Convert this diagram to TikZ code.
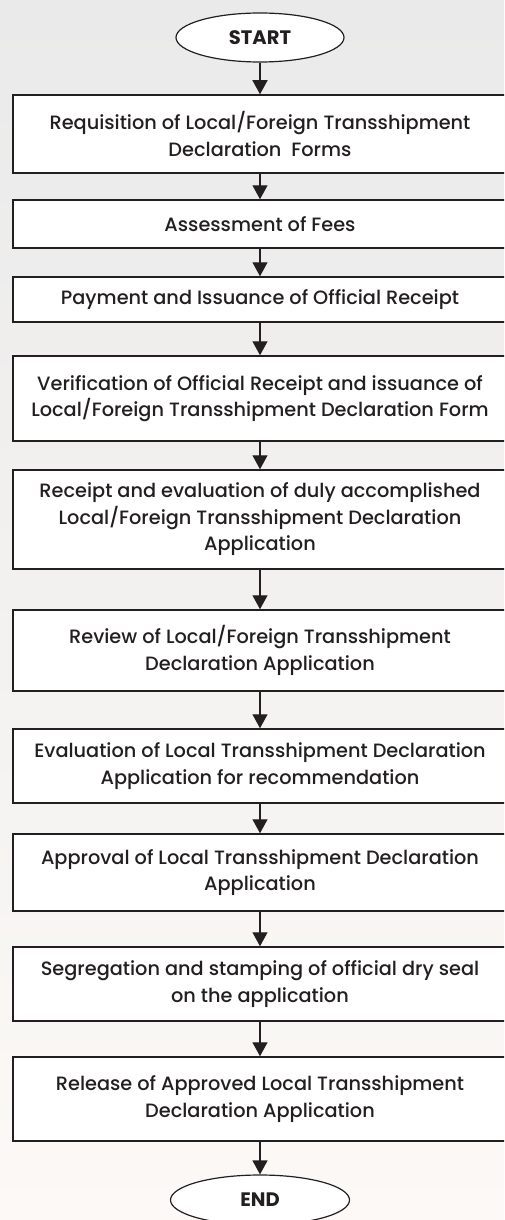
\documentclass[tikz,border=0pt]{standalone}
\usepackage{fontspec}
\setmainfont{Poppins}[UprightFont={* Medium},BoldFont={* Bold}]
\usetikzlibrary{arrows.meta,shapes.geometric}
\definecolor{inkgray}{HTML}{231F20}
\definecolor{bgtop}{HTML}{EAEAEA}
\definecolor{bgbottom}{HTML}{FCF9F6}

\tikzset{
  stepbox/.style={draw=inkgray,line width=1.5pt,fill=white,minimum width=494pt,
    align=center,inner sep=0pt,text=inkgray,font=\fontsize{19.3}{26.5}\selectfont},
  terminal/.style={ellipse,draw=inkgray,line width=1.2pt,fill=white,inner sep=0pt,
    text=inkgray,font=\fontsize{19.5}{21}\selectfont\bfseries},
  flow/.style={draw=inkgray,line width=1.3pt,-{Triangle[width=15pt,length=14pt]}}
}

\begin{document}
\begin{tikzpicture}[x=1pt,y=1pt]
\clip (0,0) rectangle (504,-1220);
\shade[top color=bgtop,bottom color=bgbottom] (0,0) rectangle (504,-1220);

% start / end ovals
\node[terminal,minimum width=168pt,minimum height=49pt] (start) at (260,-37.5) {START};
\node[terminal,minimum width=179pt,minimum height=50pt] (finish) at (260,-1200) {END};

% process steps, top to bottom
\node[stepbox,minimum height=78pt] (requisition) at (260,-134)
  {Requisition of Local/Foreign Transshipment\\Declaration\ \ Forms};
\node[stepbox,minimum height=48pt] (assessment) at (260,-224)
  {Assessment of Fees};
\node[stepbox,minimum height=45pt] (payment) at (260,-299.5)
  {Payment and Issuance of Official Receipt};
\node[stepbox,minimum height=85pt] (verification) at (260,-398.5)
  {Verification of Official Receipt and issuance of\\Local/Foreign Transshipment Declaration Form};
\node[stepbox,minimum height=99pt] (receipt) at (260,-519.5)
  {Receipt and evaluation of duly accomplished\\Local/Foreign Transshipment Declaration\\Application};
\node[stepbox,minimum height=81pt] (review) at (260,-650.5)
  {Review of Local/Foreign Transshipment\\Declaration Application};
\node[stepbox,minimum height=74pt] (evaluation) at (260,-766)
  {Evaluation of Local Transshipment Declaration\\Application for recommendation};
\node[stepbox,minimum height=77pt] (approval) at (260,-872.5)
  {Approval of Local Transshipment Declaration\\Application};
\node[stepbox,minimum height=74pt] (segregation) at (260,-984)
  {Segregation and stamping of official dry seal\\on the application};
\node[stepbox,minimum height=84pt] (release) at (260,-1099)
  {Release of Approved Local Transshipment\\Declaration Application};

% connectors
\draw[flow] (start) -- (requisition);
\draw[flow] (requisition) -- (assessment);
\draw[flow] (assessment) -- (payment);
\draw[flow] (payment) -- (verification);
\draw[flow] (verification) -- (receipt);
\draw[flow] (receipt) -- (review);
\draw[flow] (review) -- (evaluation);
\draw[flow] (evaluation) -- (approval);
\draw[flow] (approval) -- (segregation);
\draw[flow] (segregation) -- (release);
\draw[flow] (release) -- (finish);
\end{tikzpicture}
\end{document}
